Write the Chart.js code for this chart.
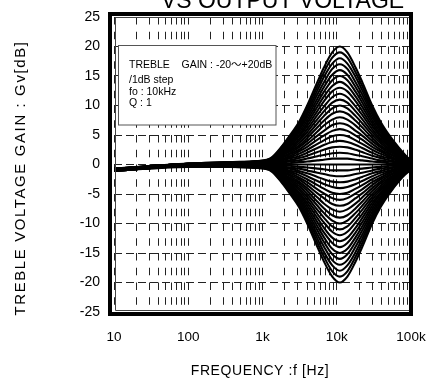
<!DOCTYPE html>
<html>
<head>
<meta charset="utf-8">
<script src="https://cdn.jsdelivr.net/npm/chart.js@4/dist/chart.umd.min.js"></script>
<style>
  html, body { margin: 0; padding: 0; background: #fff; }
  #chart { display: block; }
</style>
</head>
<body>
<canvas id="chart" width="427" height="385"></canvas>
<script>
// 周波数ポイント [Hz]
const freqs = [10, 100, 350, 870, 1300, 1750, 2300, 3100, 4000, 5500, 6700, 8700,
  11000, 13900, 18000, 22000, 30000, 39000, 52000, 69000, 93000, 100000];

// ゲイン設定 (+20dB ～ -20dB, 1dB step)
const gainSteps = [20, 19, 18, 17, 16, 15, 14, 13, 12, 11, 10, 9, 8, 7, 6, 5, 4, 3, 2, 1, 0,
  -1, -2, -3, -4, -5, -6, -7, -8, -9, -10, -11, -12, -13, -14, -15, -16, -17, -18, -19, -20];

// 各ゲインの応答 [dB]
const responseRows = [
  [-0.7,0.15,0.4,0.6,1.1,2.8,4.8,7.2,10,14,16.4,19,20,19,16.4,14,10,7.2,4.8,2.8,1.0,0.7],
  [-0.7,0.1,0.4,0.6,1.0,2.7,4.6,6.8,9.5,13.3,15.6,18.1,19,18.1,15.6,13.3,9.5,6.8,4.6,2.7,0.9,0.7],
  [-0.7,0.1,0.4,0.5,1.0,2.5,4.3,6.5,9,12.6,14.8,17.1,18,17.1,14.8,12.6,9,6.5,4.3,2.5,0.9,0.6],
  [-0.7,0.1,0.3,0.5,0.9,2.4,4.1,6.1,8.5,11.9,13.9,16.2,17,16.2,13.9,11.9,8.5,6.1,4.1,2.4,0.8,0.6],
  [-0.7,0.1,0.3,0.5,0.9,2.2,3.8,5.8,8,11.2,13.1,15.2,16,15.2,13.1,11.2,8,5.8,3.8,2.2,0.8,0.5],
  [-0.8,0.1,0.3,0.5,0.8,2.1,3.6,5.4,7.5,10.5,12.3,14.3,15,14.3,12.3,10.5,7.5,5.4,3.6,2.1,0.7,0.5],
  [-0.8,0.1,0.3,0.4,0.8,2.0,3.4,5.0,7,9.8,11.5,13.3,14,13.3,11.5,9.8,7,5.0,3.4,2.0,0.7,0.4],
  [-0.8,0.1,0.3,0.4,0.7,1.8,3.1,4.7,6.5,9.1,10.7,12.4,13,12.4,10.7,9.1,6.5,4.7,3.1,1.8,0.6,0.4],
  [-0.8,0.1,0.2,0.4,0.7,1.7,2.9,4.3,6,8.4,9.8,11.4,12,11.4,9.8,8.4,6,4.3,2.9,1.7,0.6,0.3],
  [-0.8,0,0.2,0.3,0.6,1.5,2.6,4.0,5.5,7.7,9.0,10.5,11,10.5,9.0,7.7,5.5,4.0,2.6,1.5,0.5,0.3],
  [-0.8,0,0.2,0.3,0.6,1.4,2.4,3.6,5,7,8.2,9.5,10,9.5,8.2,7,5,3.6,2.4,1.4,0.5,0.3],
  [-0.8,0,0.2,0.3,0.5,1.3,2.2,3.2,4.5,6.3,7.4,8.6,9,8.6,7.4,6.3,4.5,3.2,2.2,1.3,0.4,0.2],
  [-0.8,0,0.2,0.2,0.4,1.1,1.9,2.9,4,5.6,6.6,7.6,8,7.6,6.6,5.6,4,2.9,1.9,1.1,0.3,0.2],
  [-0.8,0,0.1,0.2,0.4,1.0,1.7,2.5,3.5,4.9,5.7,6.7,7,6.7,5.7,4.9,3.5,2.5,1.7,1.0,0.3,0.1],
  [-0.8,0,0.1,0.2,0.3,0.8,1.4,2.2,3,4.2,4.9,5.7,6,5.7,4.9,4.2,3,2.2,1.4,0.8,0.2,0.1],
  [-0.9,0,0.1,0.2,0.3,0.7,1.2,1.8,2.5,3.5,4.1,4.8,5,4.8,4.1,3.5,2.5,1.8,1.2,0.7,0.2,0],
  [-0.9,0,0.1,0.1,0.2,0.6,1.0,1.4,2,2.8,3.3,3.8,4,3.8,3.3,2.8,2,1.4,1.0,0.6,0.1,0],
  [-0.9,0,0.1,0.1,0.2,0.4,0.7,1.1,1.5,2.1,2.5,2.9,3,2.9,2.5,2.1,1.5,1.1,0.7,0.4,0.1,0],
  [-0.9,-0.1,0,0.1,0.1,0.3,0.5,0.7,1,1.4,1.6,1.9,2,1.9,1.6,1.4,1,0.7,0.5,0.3,0,-0.1],
  [-0.9,-0.1,0,0,0.1,0.1,0.2,0.4,0.5,0.7,0.8,1.0,1,1.0,0.8,0.7,0.5,0.4,0.2,0.1,0,-0.2],
  [-0.9,-0.1,0,0,0,0,0,0,0,0,0,0,0,0,0,0,0,0,0,0,-0.1,-0.2],
  [-0.9,-0.1,0,0,-0.1,-0.1,-0.2,-0.4,-0.5,-0.7,-0.8,-1.0,-1,-1.0,-0.8,-0.7,-0.5,-0.4,-0.2,-0.1,-0.2,-0.2],
  [-0.9,-0.1,0,-0.1,-0.1,-0.3,-0.5,-0.7,-1,-1.4,-1.6,-1.9,-2,-1.9,-1.6,-1.4,-1,-0.7,-0.5,-0.3,-0.2,-0.3],
  [-0.9,-0.1,-0.1,-0.1,-0.2,-0.4,-0.7,-1.1,-1.5,-2.1,-2.5,-2.9,-3,-2.9,-2.5,-2.1,-1.5,-1.1,-0.7,-0.4,-0.3,-0.3],
  [-0.9,-0.2,-0.1,-0.1,-0.2,-0.6,-1.0,-1.4,-2,-2.8,-3.3,-3.8,-4,-3.8,-3.3,-2.8,-2,-1.4,-1.0,-0.6,-0.3,-0.4],
  [-1.0,-0.2,-0.1,-0.2,-0.3,-0.7,-1.2,-1.8,-2.5,-3.5,-4.1,-4.8,-5,-4.8,-4.1,-3.5,-2.5,-1.8,-1.2,-0.7,-0.4,-0.4],
  [-1.0,-0.2,-0.1,-0.2,-0.3,-0.8,-1.4,-2.2,-3,-4.2,-4.9,-5.7,-6,-5.7,-4.9,-4.2,-3,-2.2,-1.4,-0.8,-0.4,-0.5],
  [-1.0,-0.2,-0.1,-0.2,-0.4,-1.0,-1.7,-2.5,-3.5,-4.9,-5.7,-6.7,-7,-6.7,-5.7,-4.9,-3.5,-2.5,-1.7,-1.0,-0.5,-0.5],
  [-1.0,-0.2,-0.2,-0.2,-0.4,-1.1,-1.9,-2.9,-4,-5.6,-6.6,-7.6,-8,-7.6,-6.6,-5.6,-4,-2.9,-1.9,-1.1,-0.5,-0.6],
  [-1.0,-0.2,-0.2,-0.3,-0.5,-1.3,-2.2,-3.2,-4.5,-6.3,-7.4,-8.6,-9,-8.6,-7.4,-6.3,-4.5,-3.2,-2.2,-1.3,-0.6,-0.6],
  [-1.0,-0.2,-0.2,-0.3,-0.6,-1.4,-2.4,-3.6,-5,-7,-8.2,-9.5,-10,-9.5,-8.2,-7,-5,-3.6,-2.4,-1.4,-0.7,-0.7],
  [-1.0,-0.2,-0.2,-0.3,-0.6,-1.5,-2.6,-4.0,-5.5,-7.7,-9.0,-10.5,-11,-10.5,-9.0,-7.7,-5.5,-4.0,-2.6,-1.5,-0.7,-0.7],
  [-1.0,-0.3,-0.2,-0.4,-0.7,-1.7,-2.9,-4.3,-6,-8.4,-9.8,-11.4,-12,-11.4,-9.8,-8.4,-6,-4.3,-2.9,-1.7,-0.8,-0.7],
  [-1.0,-0.3,-0.3,-0.4,-0.7,-1.8,-3.1,-4.7,-6.5,-9.1,-10.7,-12.4,-13,-12.4,-10.7,-9.1,-6.5,-4.7,-3.1,-1.8,-0.8,-0.8],
  [-1.0,-0.3,-0.3,-0.4,-0.8,-2.0,-3.4,-5.0,-7,-9.8,-11.5,-13.3,-14,-13.3,-11.5,-9.8,-7,-5.0,-3.4,-2.0,-0.9,-0.8],
  [-1.1,-0.3,-0.3,-0.5,-0.8,-2.1,-3.6,-5.4,-7.5,-10.5,-12.3,-14.3,-15,-14.3,-12.3,-10.5,-7.5,-5.4,-3.6,-2.1,-0.9,-0.9],
  [-1.1,-0.3,-0.3,-0.5,-0.9,-2.2,-3.8,-5.8,-8,-11.2,-13.1,-15.2,-16,-15.2,-13.1,-11.2,-8,-5.8,-3.8,-2.2,-1.0,-0.9],
  [-1.1,-0.3,-0.3,-0.5,-0.9,-2.4,-4.1,-6.1,-8.5,-11.9,-13.9,-16.2,-17,-16.2,-13.9,-11.9,-8.5,-6.1,-4.1,-2.4,-1.0,-1.0],
  [-1.1,-0.3,-0.4,-0.5,-1.0,-2.5,-4.3,-6.5,-9,-12.6,-14.8,-17.1,-18,-17.1,-14.8,-12.6,-9,-6.5,-4.3,-2.5,-1.1,-1.0],
  [-1.1,-0.3,-0.4,-0.6,-1.0,-2.7,-4.6,-6.8,-9.5,-13.3,-15.6,-18.1,-19,-18.1,-15.6,-13.3,-9.5,-6.8,-4.6,-2.7,-1.1,-1.1],
  [-1.1,-0.4,-0.4,-0.6,-1.1,-2.8,-4.8,-7.2,-10,-14,-16.4,-19,-20,-19,-16.4,-14,-10,-7.2,-4.8,-2.8,-1.2,-1.1],
];

// 軸の目盛り
const yTicks = [-25, -20, -15, -10, -5, 0, 5, 10, 15, 20, 25];
const xDecades = [10, 100, 1000, 10000, 100000];
const xDecadeLabels = ['10', '100', '1k', '10k', '100k'];

// テキスト
const titleText = 'VS OUTPUT VOLTAGE';
const xTitle = 'FREQUENCY :f [Hz]';
const yTitle = 'TREBLE VOLTAGE GAIN : Gv[dB]';
const noteLines = ['TREBLE    GAIN : -20～+20dB', '/1dB step', 'fo : 10kHz', 'Q : 1'];

const FONT = "Arial, 'Liberation Sans', 'Noto Sans CJK JP', sans-serif";
Chart.defaults.font.family = FONT;
Chart.defaults.color = '#000';

// 対数軸のグリッド（各デケードの1～9倍）
const xGridValues = [];
xDecades.slice(0, -1).forEach((d) => {
  for (let m = 1; m <= 9; m++) xGridValues.push(m * d);
});
xGridValues.push(xDecades[xDecades.length - 1]);

const datasets = responseRows.map((row, i) => ({
  label: `${gainSteps[i]}dB`,
  data: row.map((v, j) => ({ x: freqs[j], y: v })),
  borderColor: '#000',
  borderWidth: 2.1,
  pointRadius: 0,
  fill: false,
  cubicInterpolationMode: 'monotone',
}));

// 枠・注記・タイトルを描くプラグイン
const decorPlugin = {
  id: 'decor',
  beforeDatasetsDraw(chart) {
    const ctx = chart.ctx;
    ctx.save();
    ctx.fillStyle = '#fff';
    ctx.fillRect(118.5, 45.5, 157.5, 79.5);
    ctx.strokeStyle = '#555';
    ctx.lineWidth = 1;
    ctx.strokeRect(118.5, 45.5, 157.5, 79.5);
    ctx.fillStyle = '#000';
    ctx.font = `10.5px ${FONT}`;
    ctx.textBaseline = 'alphabetic';
    const ys = [67.7, 83.3, 95, 105.8];
    noteLines.forEach((t, i) => ctx.fillText(t, 129, ys[i]));
    ctx.restore();
  },
  afterDraw(chart) {
    const ctx = chart.ctx;
    const a = chart.chartArea;
    ctx.save();
    // 内側の細線
    ctx.strokeStyle = '#444';
    ctx.lineWidth = 1;
    ctx.beginPath();
    ctx.moveTo(a.right, a.top + 0.5);
    ctx.lineTo(a.left + 1.5, a.top + 0.5);
    ctx.lineTo(a.left + 1.5, a.bottom - 1.5);
    ctx.lineTo(a.right, a.bottom - 1.5);
    ctx.stroke();
    // 外側の太枠
    ctx.strokeStyle = '#000';
    ctx.lineWidth = 4;
    ctx.strokeRect(a.left - 4, a.top - 3, a.right - a.left + 4, a.bottom - a.top + 5);

    // タイトル（上部で切れている）
    ctx.fillStyle = '#000';
    ctx.font = `23px ${FONT}`;
    ctx.textAlign = 'center';
    ctx.textBaseline = 'alphabetic';
    ctx.fillText(titleText, 282.5, 7.5);

    // X軸タイトル
    ctx.font = `14px ${FONT}`;
    ctx.letterSpacing = '0.6px';
    ctx.textBaseline = 'middle';
    ctx.fillText(xTitle, 260, 371);

    // Y軸タイトル
    ctx.translate(21, 178);
    ctx.rotate(-Math.PI / 2);
    ctx.font = `15px ${FONT}`;
    ctx.letterSpacing = '1.6px';
    ctx.fillText(yTitle, 0, 0);
    ctx.restore();
  },
};

new Chart(document.getElementById('chart').getContext('2d'), {
  type: 'line',
  data: { datasets },
  plugins: [decorPlugin],
  options: {
    responsive: false,
    animation: false,
    layout: { padding: { top: 17, right: 16, left: 0, bottom: 0 } },
    plugins: {
      legend: { display: false },
      tooltip: { enabled: false },
      title: { display: false },
    },
    scales: {
      x: {
        type: 'logarithmic',
        min: 10,
        max: 100000,
        afterBuildTicks: (s) => { s.ticks = xGridValues.map((v) => ({ value: v })); },
        afterFit: (s) => {
          s.height = 73;
          s.paddingLeft = 0;
          s.paddingRight = 0;
        },
        grid: { color: '#222', lineWidth: 1, drawTicks: false },
        border: { display: false, dash: [7.5, 7.25] },
        ticks: {
          autoSkip: false,
          maxRotation: 0,
          padding: 17,
          font: { size: 13.5 },
          callback: (v) => {
            const i = xDecades.indexOf(v);
            return i >= 0 ? xDecadeLabels[i] : '';
          },
        },
      },
      y: {
        min: -25,
        max: 25,
        afterBuildTicks: (s) => { s.ticks = yTicks.map((v) => ({ value: v })); },
        afterFit: (s) => {
          s.width = 114;
          s.paddingTop = 0;
          s.paddingBottom = 0;
        },
        grid: { color: '#222', lineWidth: 1, drawTicks: false },
        border: { display: false, dash: [8, 4] },
        ticks: { padding: 14, font: { size: 14 } },
      },
    },
  },
});
</script>
</body>
</html>
